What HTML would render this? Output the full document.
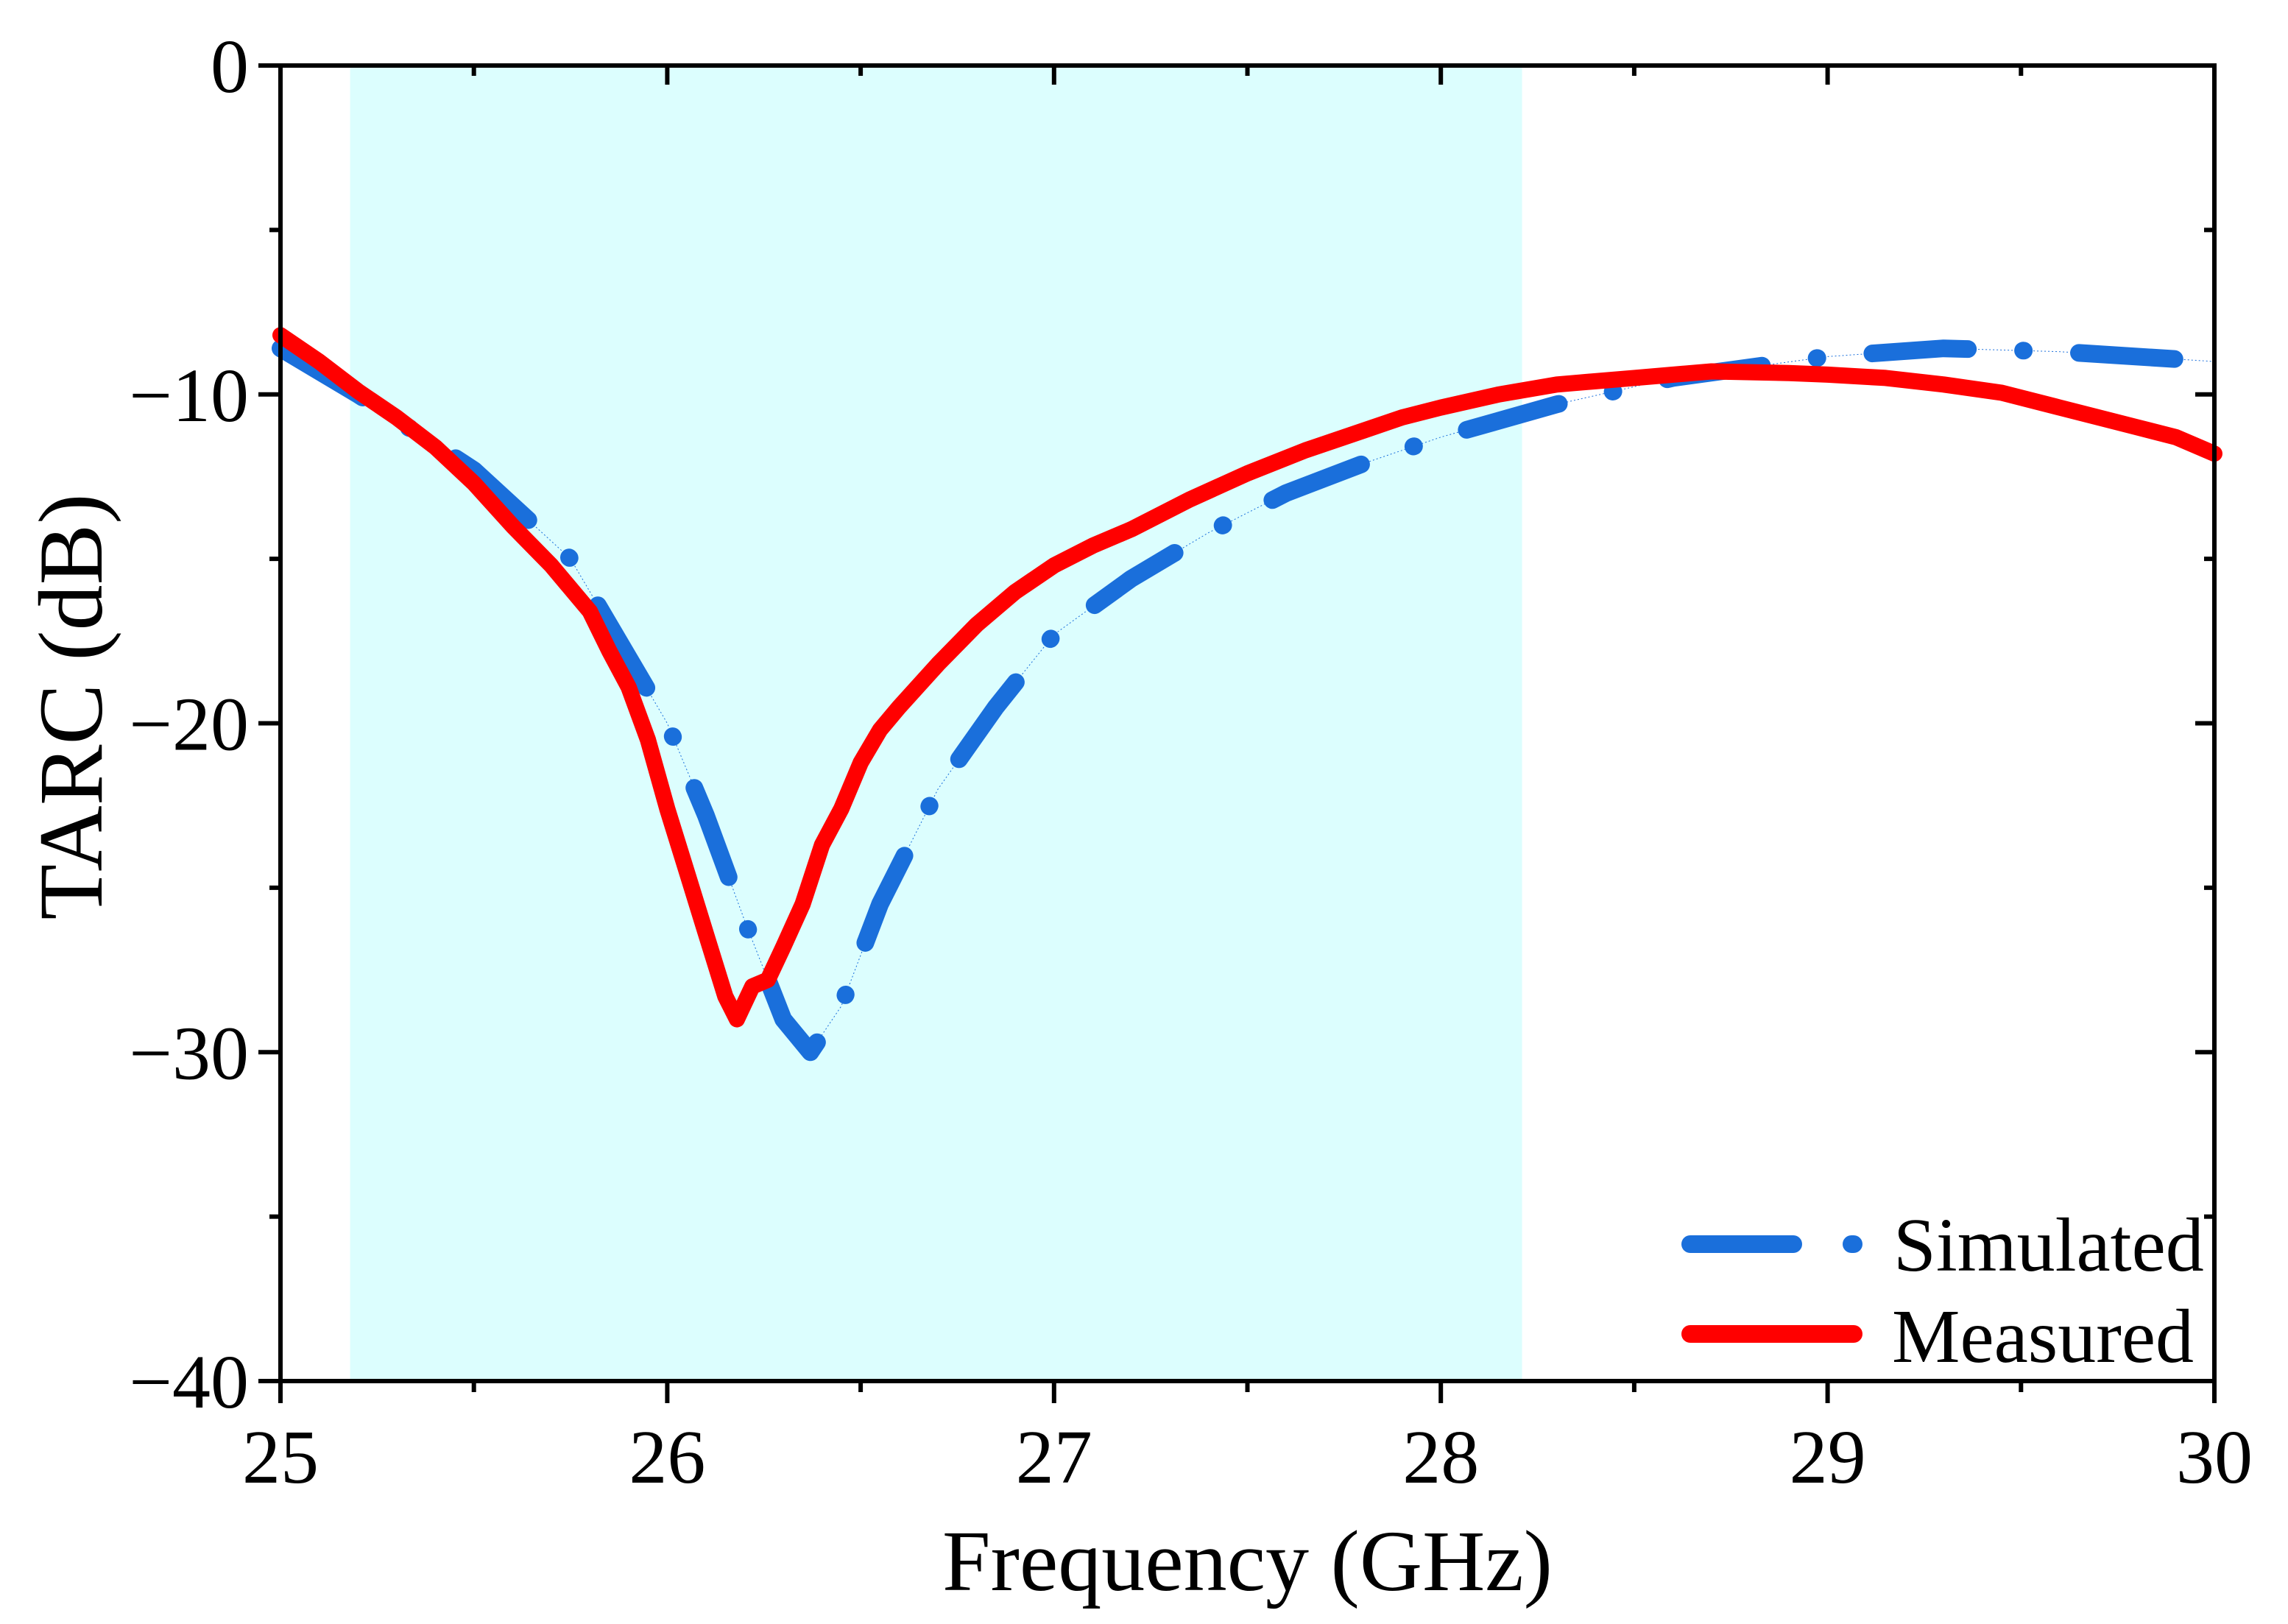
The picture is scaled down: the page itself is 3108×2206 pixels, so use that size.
<!DOCTYPE html>
<html><head><meta charset="utf-8"><style>
html,body{margin:0;padding:0;background:#fff;}
svg{display:block;font-family:"Liberation Serif",serif;}
</style></head><body>
<svg id="chart" width="3108" height="2206" viewBox="0 0 3108 2206" xmlns="http://www.w3.org/2000/svg">
<g id="plot"></g>
</svg>
<script>
const xTicks=[25,26,27,28,29,30];
const yTicks=[0,-10,-20,-30,-40];
const yTickLabels=["0","\u221210","\u221220","\u221230","\u221240"];
const band=[25.18,28.21];
const simX=[25,25.2,25.5,25.75,26,26.1,26.2,26.3,26.37,26.45,26.55,26.7,26.85,27,27.2,27.4,27.6,27.8,28,28.3,28.6,29,29.3,29.6,30];
const simY=[-8.6,-10,-12.3,-15,-20,-22.8,-26,-29,-30,-28.6,-25.5,-22,-19.5,-17.3,-15.6,-14.2,-13,-12.1,-11.3,-10.3,-9.5,-8.85,-8.6,-8.7,-9];
const measX=[25,25.1,25.2,25.3,25.4,25.5,25.6,25.7,25.8,25.85,25.9,25.95,26,26.05,26.1,26.15,26.18,26.2,26.22,26.26,26.3,26.35,26.4,26.45,26.5,26.55,26.6,26.7,26.8,26.9,27,27.1,27.2,27.35,27.5,27.65,27.8,27.9,28,28.15,28.3,28.5,28.7,28.9,29,29.15,29.3,29.45,29.6,29.7,29.8,29.9,30];
const measY=[-8.2,-9,-9.9,-10.7,-11.6,-12.7,-14,-15.2,-16.6,-17.8,-18.9,-20.5,-22.6,-24.5,-26.4,-28.3,-29,-28.5,-28,-27.8,-26.8,-25.5,-23.7,-22.6,-21.2,-20.2,-19.5,-18.2,-17,-16,-15.2,-14.6,-14.1,-13.2,-12.4,-11.7,-11.1,-10.7,-10.4,-10,-9.7,-9.5,-9.3,-9.35,-9.4,-9.5,-9.7,-9.95,-10.4,-10.7,-11,-11.3,-11.8];
const L=381,R=3008,T=89,B=1876;
const X=v=>L+(v-25)/5*(R-L);
const Y=v=>T+(0-v)/40*(B-T);
const NS="http://www.w3.org/2000/svg";
const g=document.getElementById('plot');
function mk(tag,attrs,parent){const e=document.createElementNS(NS,tag);for(const k in attrs)e.setAttribute(k,attrs[k]);(parent||g).appendChild(e);return e;}
let e;
e=mk('rect',{x:X(band[0]),y:T,width:X(band[1])-X(band[0]),height:B-T,fill:'#dcfefe'});


function path(xs,ys){return xs.map((x,i)=>(i?'L':'M')+X(x).toFixed(1)+' '+Y(ys[i]).toFixed(1)).join(' ');}
e=mk('path',{d:path(simX,simY),fill:'none',stroke:'#1a6fdb','stroke-width':1,'stroke-dasharray':'2 3'});


e=mk('path',{d:path(simX,simY),fill:'none',stroke:'#1a6fdb','stroke-width':24,'stroke-linecap':'round','stroke-linejoin':'round','stroke-dasharray':'130 75 1 75'});


e=mk('path',{d:path(measX,measY),fill:'none',stroke:'#ff0000','stroke-width':22,'stroke-linecap':'round','stroke-linejoin':'round'});


e=mk('rect',{x:L,y:T,width:R-L,height:B-T,fill:'none',stroke:'#000','stroke-width':6});


xTicks.forEach((t,i)=>{
  const x=X(t);
  mk('line',{x1:x,y1:B,x2:x,y2:B+30,stroke:'#000','stroke-width':6});
  mk('line',{x1:x,y1:T,x2:x,y2:T+26,stroke:'#000','stroke-width':6});
  if(i<xTicks.length-1){const m=X(t+0.5);mk('line',{x1:m,y1:B,x2:m,y2:B+15,stroke:'#000','stroke-width':6});mk('line',{x1:m,y1:T,x2:m,y2:T+14,stroke:'#000','stroke-width':6});}
  const tx=mk('text',{x:x,y:2014,'font-size':104,'text-anchor':'middle'});tx.textContent=t;
  
  
});
yTicks.forEach((t,i)=>{
  const y=Y(t);
  mk('line',{x1:L-30,y1:y,x2:L,y2:y,stroke:'#000','stroke-width':6});
  mk('line',{x1:R,y1:y,x2:R-26,y2:y,stroke:'#000','stroke-width':6});
  if(i<yTicks.length-1){const m=Y(t-5);mk('line',{x1:L-15,y1:m,x2:L,y2:m,stroke:'#000','stroke-width':6});mk('line',{x1:R,y1:m,x2:R-14,y2:m,stroke:'#000','stroke-width':6});}
  const tx=mk('text',{x:338,y:y+36,'font-size':104,'text-anchor':'end'});tx.textContent=yTickLabels[i];
  
  
});
e=mk('text',{x:(L+R)/2,y:2160,'font-size':118,'text-anchor':'middle'});e.textContent='Frequency (GHz)';


e=mk('text',{x:0,y:0,'font-size':124,'text-anchor':'middle',transform:'translate(138,960) rotate(-90)'});e.textContent='TARC (dB)';


const lg=mk('g',{});


e=mk('line',{x1:2296,y1:1690,x2:2436,y2:1690,stroke:'#1a6fdb','stroke-width':24,'stroke-linecap':'round'},lg);


mk('line',{x1:2515,y1:1690,x2:2518,y2:1690,stroke:'#1a6fdb','stroke-width':24,'stroke-linecap':'round'},lg);
e=mk('text',{x:2572,y:1726,'font-size':104},lg);e.textContent='Simulated';


e=mk('line',{x1:2296,y1:1812,x2:2518,y2:1812,stroke:'#ff0000','stroke-width':24,'stroke-linecap':'round'},lg);


e=mk('text',{x:2570,y:1850,'font-size':104},lg);e.textContent='Measured';


</script>
</body></html>
